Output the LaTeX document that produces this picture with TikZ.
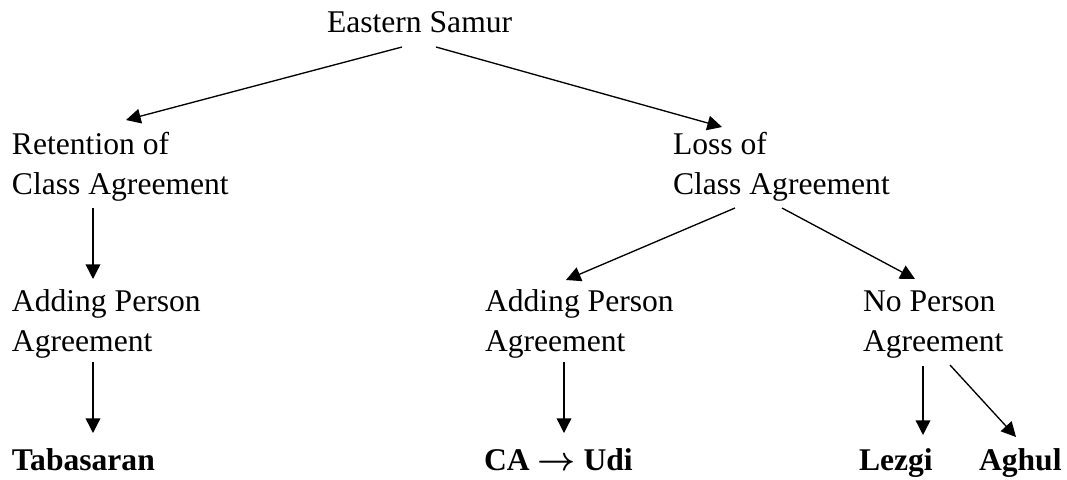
\documentclass[tikz,border=0pt]{standalone}
\usepackage{fontspec}
\setmainfont{Liberation Serif}
\usetikzlibrary{arrows.meta}
\tikzset{
  lbl/.style={anchor=base west, inner sep=0pt, outer sep=0pt, align=left,
    font=\fontsize{23.7}{30}\selectfont},
  leaf/.style={lbl, font=\fontsize{23.7}{30}\selectfont\bfseries},
  arr/.style={line width=1pt, -{Triangle[length=11pt,width=11pt]}}
}
\begin{document}
\begin{tikzpicture}[x=0.75pt,y=-0.75pt]
\useasboundingbox (0,0) rectangle (1067,479);
\node[lbl] (es) at (327,32) {Eastern Samur};
\node[lbl] (ret) at (12,194) {Retention of\\Class Agreement};
\node[lbl] (loss) at (673,194) {Loss of\\Class Agreement};
\node[lbl] (addL) at (12,351) {Adding Person\\Agreement};
\node[lbl] (addM) at (485,351) {Adding Person\\Agreement};
\node[lbl] (noP) at (863,351) {No Person\\Agreement};
\node[leaf] (tab) at (12,470) {Tabasaran};
\node[leaf] (udi) at (484,470) {CA {\boldmath$\rightarrow$} Udi};
\node[leaf] (lez) at (859,470) {Lezgi};
\node[leaf] (agh) at (979,470) {Aghul};

\draw[arr] ([shift={(75,15)}]es.base west) -- ([shift={(114,-74)}]ret.base west);
\draw[arr] ([shift={(109,15)}]es.base west) -- ([shift={(49,-67)}]loss.base west);
\draw[arr] ([shift={(81,14)}]ret.base west) -- ([shift={(81,-72)}]addL.base west);
\draw[arr] ([shift={(62,14)}]loss.base west) -- ([shift={(81,-71)}]addM.base west);
\draw[arr] ([shift={(109,14)}]loss.base west) -- ([shift={(52,-72)}]noP.base west);
\draw[arr] ([shift={(81,11)}]addL.base west) -- ([shift={(81,-37)}]tab.base west);
\draw[arr] ([shift={(79,11)}]addM.base west) -- ([shift={(80,-37)}]udi.base west);
\draw[arr] ([shift={(60,15)}]noP.base west) -- ([shift={(64,-35)}]lez.base west);
\draw[arr] ([shift={(87,14)}]noP.base west) -- ([shift={(37,-33)}]agh.base west);
\end{tikzpicture}
\end{document}
